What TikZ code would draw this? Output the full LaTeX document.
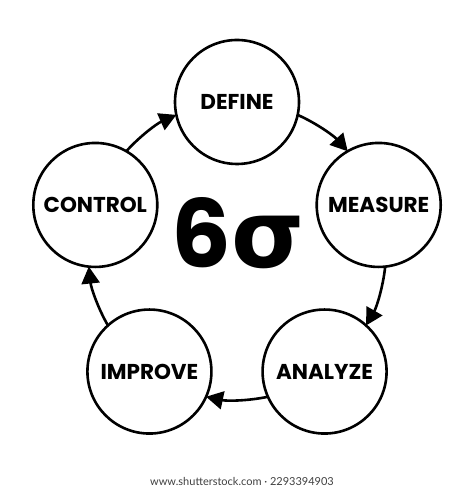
\documentclass[tikz,border=0pt]{standalone}
\usepackage{fontspec}
\setmainfont{Poppins}
\newfontfamily\labfont{Poppins}[BoldFont={* Bold}]
\newfontfamily\sigfont{DejaVu Sans}
\newfontfamily\footfont{Lato}
\usetikzlibrary{arrows.meta,calc}
\begin{document}
\begin{tikzpicture}[x=1pt,y=1pt,
  stage/.style={circle,draw=black,line width=2.6pt,minimum size=124pt,inner sep=0pt,
     font=\labfont\bfseries\fontsize{21.5}{21.5}\selectfont},
  flow/.style={line width=2.6pt,-{Triangle[length=17pt,width=18pt]}}]
\useasboundingbox (0,0) rectangle (474,489);
\fill[white] (0,0) rectangle (474,489);
\coordinate (o) at (237,238);
\node[stage] (define)  at ($(o)+(90:149)$) {DEFINE};
\node[stage] (measure) at ($(o)+(18:149)$) {MEASURE};
\node[stage] (analyze) at ($(o)+(-54:149)$) {ANALYZE};
\node[stage] (improve) at ($(o)+(-126:149)$) {IMPROVE};
\node[stage] (control) at ($(o)+(162:149)$) {CONTROL};
\coordinate (s1) at ($(o)+(66:149)$);
\coordinate (s2) at ($(o)+(-6:149)$);
\coordinate (s3) at ($(o)+(-78:149)$);
\coordinate (s4) at ($(o)+(-150:149)$);
\coordinate (s5) at ($(o)+(138:149)$);
\draw[flow] (s1) arc[start angle=66,end angle=42,radius=149];
\draw[flow] (s2) arc[start angle=-6,end angle=-30,radius=149];
\draw[flow] (s3) arc[start angle=-78,end angle=-102,radius=149];
\draw[flow] (s4) arc[start angle=-150,end angle=-174,radius=149];
\draw[flow] (s5) arc[start angle=138,end angle=114,radius=149];
\node[anchor=base,inner sep=0pt] (six) at (238,221)
  {\labfont\bfseries\fontsize{94}{94}\selectfont 6\sigfont\bfseries σ};
\node[inner sep=0pt,text=black!75] (foot) at (242,8)
  {\footfont\fontsize{11}{11}\selectfont www.shutterstock.com · 2293394903};
\end{tikzpicture}
\end{document}
